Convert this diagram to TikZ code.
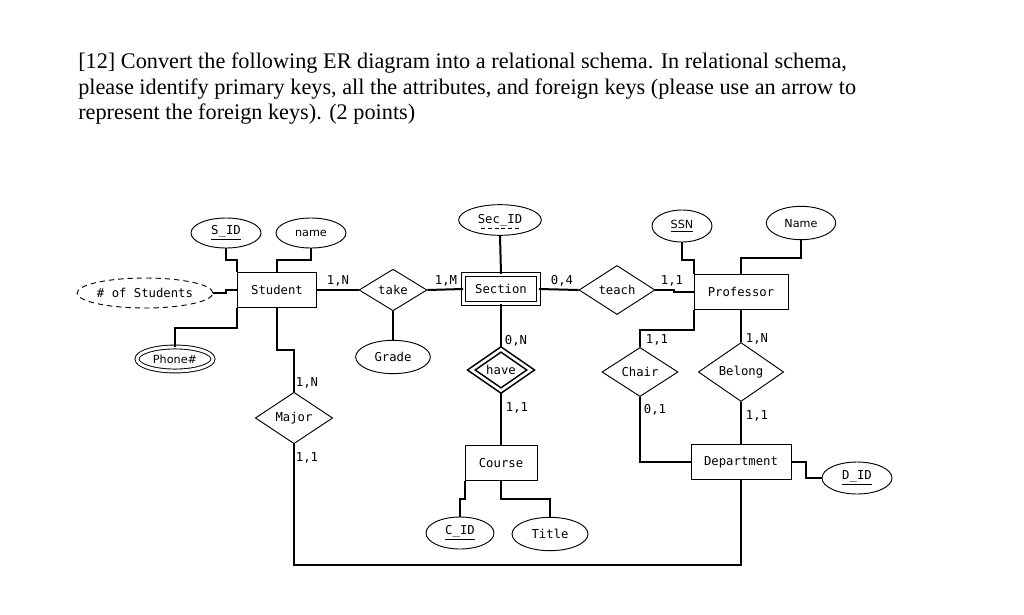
\documentclass[tikz,border=0pt]{standalone}
\usepackage{fontspec}
\setmainfont{Liberation Serif}
\setsansfont{DejaVu Sans}
\setmonofont{DejaVu Sans Mono}
\usetikzlibrary{shapes.geometric,positioning}
\newcommand{\erfont}{\fontsize{9.2}{11}\ttfamily}
\newcommand{\ersans}{\fontsize{8.4}{10}\sffamily}
\tikzset{
  entity/.style={draw, line width=0.7pt, fill=white, inner sep=1pt, font=\erfont},
  weakentity/.style={entity, double, double distance=2.2pt},
  relation/.style={draw, diamond, line width=0.7pt, fill=white, inner sep=0.5pt, font=\erfont},
  identrel/.style={relation, line width=1.2pt, double, double distance=2pt},
  attr/.style={draw, ellipse, line width=0.7pt, fill=white, inner sep=0pt, font=\erfont},
  multiattr/.style={attr, double, double distance=2.2pt},
  derivattr/.style={attr, dash pattern=on 4pt off 3pt},
  link/.style={line width=1.5pt},
  card/.style={font=\erfont, inner sep=0pt}
}

\begin{document}
\begin{tikzpicture}[x=0.75pt,y=-0.75pt]
  \useasboundingbox[fill=white] (0,0) rectangle (1024,614);

  \node[anchor=north west, inner sep=0pt, align=left, font=\fontsize{16.7}{18.8}\selectfont] (task) at (78,53)
    {[12] Convert the following ER diagram into a relational schema. In relational schema,\\
     please identify primary keys, all the attributes, and foreign keys (please use an arrow to\\
     represent the foreign keys). (2 points)};

  % entities
  \node[entity, minimum width=59pt, minimum height=26pt] (student) at (277,290) {Student};
  \node[weakentity, minimum width=56pt, minimum height=22pt] (section) at (501,289) {Section};
  \node[entity, minimum width=54pt, minimum height=26pt] (course) at (501,463) {Course};
  \node[entity, minimum width=70.5pt, minimum height=26pt] (professor) at (741,292) {Professor};
  \node[entity, minimum width=75pt, minimum height=26pt] (department) at (741,462) {Department};

  % relationships
  \node[relation, minimum width=51pt, minimum height=29pt] (take) at (393,290) {take};
  \node[identrel, minimum width=45pt, minimum height=26pt] (have) at (501,370) {have};
  \node[relation, minimum width=57pt, minimum height=34pt] (teach) at (617,290) {teach};
  \node[relation, minimum width=57pt, minimum height=34pt] (chair) at (640,372) {Chair};
  \node[relation, minimum width=64pt, minimum height=34pt] (belong) at (741,372) {Belong};
  \node[relation, minimum width=58pt, minimum height=33pt] (major) at (294,418) {Major};

  % attributes
  \node[attr, minimum width=52.5pt, minimum height=22.5pt] (sid) at (226,233) {\underline{S\_ID}};
  \node[attr, minimum width=52.5pt, minimum height=22.5pt, font=\ersans] (sname) at (311,233) {name};
  \node[derivattr, minimum width=101pt, minimum height=22.5pt] (nstud) at (145,293) {\# of Students};
  \node[multiattr, minimum width=57pt, minimum height=18pt, font=\ersans] (phone) at (175,359) {Phone\#};
  \node[attr, minimum width=56pt, minimum height=25pt] (grade) at (393,357) {Grade};
  \node[attr, minimum width=62pt, minimum height=23pt] (secid) at (500,220) {Sec\_ID};
  \node[attr, minimum width=51pt, minimum height=24pt] (cid) at (460,533) {\underline{C\_ID}};
  \node[attr, minimum width=57pt, minimum height=25pt] (title) at (550,534) {Title};
  \node[attr, minimum width=45pt, minimum height=24pt, font=\ersans] (ssn) at (682,226) {\underline{SSN}};
  \node[attr, minimum width=52pt, minimum height=25pt, font=\ersans] (pname) at (801,223) {Name};
  \node[attr, minimum width=52.5pt, minimum height=24pt] (did) at (857,478) {\underline{D\_ID}};
  \draw[line width=0.6pt, dash pattern=on 3pt off 2pt] ([xshift=-14pt,yshift=-6pt]secid.center) -- ([xshift=14pt,yshift=-6pt]secid.center);

  % connectors
  \draw[link] (sid.south) -- ++(0,12) -| (student.north west);
  \draw[link] (sname.south) -- ++(0,12) -| (student.north);
  \draw[link] (nstud.east) -- ++(13,0) |- (student.west);
  \draw[link] (phone.north) -- ++(0,-19) -| (student.south west);
  \draw[link] (student.south) -- ++(0,42) -| (major.north);
  \draw[link] (student.east) -- (take.west);
  \draw[link] (take.east) -- (section.west);
  \draw[link] (take.south) -- (grade.north);
  \draw[link] (secid.south) -- (section.north);
  \draw[link] (section.east) -- (teach.west);
  \draw[link] (section.south) -- (have.north);
  \draw[link] (have.south) -- (course.north);
  \draw[link] (course.south west) -- ++(0,18) -| (cid.north);
  \draw[link] (course.south) -- ++(0,18) -| (title.north);
  \draw[link] (teach.east) -- ++(19,0) |- (professor.west);
  \draw[link] (ssn.south) -- ++(0,18) -| (professor.north west);
  \draw[link] (pname.south) -- ++(0,18) -| (professor.north);
  \draw[link] (professor.south west) -- ++(0,20) -| (chair.north);
  \draw[link] (professor.south) -- (belong.north);
  \draw[link] (chair.south) |- (department.west);
  \draw[link] (belong.south) -- (department.north);
  \draw[link] (department.east) -- ++(15,0) |- (did.west);
  \draw[link] (department.south) -- ++(0,85) -| (major.south);

  % cardinalities
  \node[card] (cst) at (338,281) {1,N};
  \node[card] (csec) at (446,281) {1,M};
  \node[card] (cteach) at (562,281) {0,4};
  \node[card] (cprof) at (672,281) {1,1};
  \node[card] (chave) at (516,341) {0,N};
  \node[card] (ccourse) at (517,408) {1,1};
  \node[card] (cchair) at (657,340) {1,1};
  \node[card] (cbelong) at (757,339) {1,N};
  \node[card] (cdept) at (655,410) {0,1};
  \node[card] (cbdept) at (757,416) {1,1};
  \node[card] (cmajor) at (307,383) {1,N};
  \node[card] (cmdept) at (307,458) {1,1};
\end{tikzpicture}
\end{document}
